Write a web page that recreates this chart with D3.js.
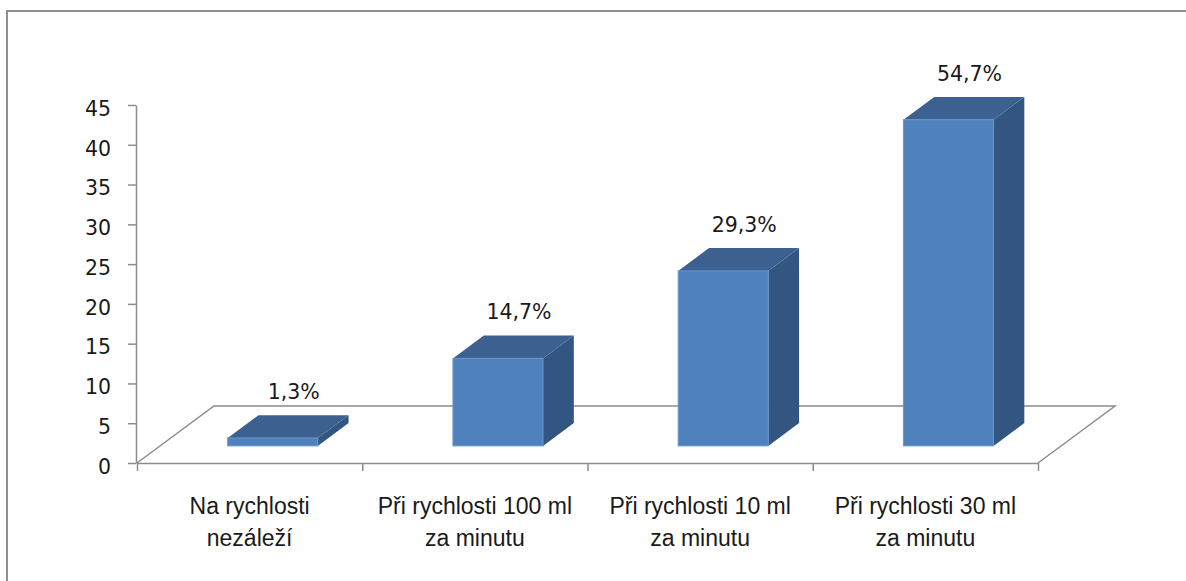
<!DOCTYPE html>
<html>
<head>
<meta charset="utf-8">
<script src="https://cdn.jsdelivr.net/npm/d3@7"></script>
<style>
  html, body { margin: 0; padding: 0; background: #fff; }
  svg { display: block; }
</style>
</head>
<body>
<svg id="chart" width="1186" height="581"></svg>
<script>
// Odpovědi respondentů (počty), celkem 75
const categories = [
  ["Na rychlosti", "nezáleží"],
  ["Při rychlosti 100 ml", "za minutu"],
  ["Při rychlosti 10 ml", "za minutu"],
  ["Při rychlosti 30 ml", "za minutu"]
];
const counts = [1, 11, 22, 41];
const total = 75;
const yTicks = [0, 5, 10, 15, 20, 25, 30, 35, 40, 45];

const svg = d3.select("#chart");

// Front plane scales
const y = d3.scaleLinear().domain([0, 45]).range([463, 105]);
const x = d3.scaleBand()
  .domain(d3.range(categories.length))
  .range([137, 1038])
  .paddingInner(0.6)
  .paddingOuter(0.3);
const edge = d3.scaleLinear().domain([0, categories.length]).range([137, 1038]);

// Depth projection of the floor (full depth) and of the bars
const depth = { dx: 77, dy: -57 };
const barFront = 0.3, barDepth = 0.4;
const fx = depth.dx * barFront, fy = depth.dy * barFront;
const bx = depth.dx * barDepth, by = depth.dy * barDepth;

const axisColor = "#8c8c8c";
const textColor = "#1a1a1a";

// Outer frame
svg.append("path")
  .attr("d", "M7,590 L7,11 L1190,11")
  .attr("fill", "none")
  .attr("stroke", "#8f8f8f")
  .attr("stroke-width", 2);

// Floor: back and left edges (behind the bars)
const x0 = edge(0), x1 = edge(categories.length), y0 = y(0);
svg.append("path")
  .attr("d", `M${x0},${y0} L${x0 + depth.dx},${y0 + depth.dy} L${x1 + depth.dx},${y0 + depth.dy} L${x1},${y0}`)
  .attr("fill", "#fff")
  .attr("stroke", axisColor)
  .attr("stroke-width", 1.5);

// Bars
const bw = x.bandwidth();
const bars = svg.append("g").selectAll("g").data(counts).join("g");

bars.each(function (v, i) {
  const g = d3.select(this);
  const L = x(i) + fx, R = L + bw;
  const B = y(0) + fy, T = y(v) + fy;
  // right side
  g.append("path")
    .attr("d", `M${R},${B} L${R + bx},${B + by} L${R + bx},${T + by} L${R},${T} Z`)
    .attr("fill", "#325581");
  // top
  g.append("path")
    .attr("d", `M${L},${T} L${L + bx},${T + by} L${R + bx},${T + by} L${R},${T} Z`)
    .attr("fill", "#3c6191");
  // front
  g.append("rect")
    .attr("x", L).attr("y", T)
    .attr("width", bw).attr("height", B - T)
    .attr("fill", "#4f81bd")
    .attr("stroke", "#6a96cc")
    .attr("stroke-width", 1);
});

// Value labels (share of all respondents)
const fmt = v => d3.format(".1f")(v / total * 100).replace(".", ",") + "%";
svg.append("g").selectAll("text").data(counts).join("text")
  .attr("x", (v, i) => x(i) + fx + bw / 2 + 21)
  .attr("y", v => y(v) + fy - 39)
  .attr("text-anchor", "middle")
  .attr("font-family", "DejaVu Sans, Verdana, sans-serif")
  .attr("font-size", 20.5)
  .attr("fill", textColor)
  .text(fmt);

// Front edge of the floor with category ticks
const xAxis = d3.axisBottom(edge)
  .tickValues(d3.range(categories.length + 1))
  .tickSize(8)
  .tickSizeOuter(0)
  .tickFormat("");
const gx = svg.append("g").attr("transform", `translate(0,${y0})`).call(xAxis);
gx.selectAll("path, line").attr("stroke", axisColor).attr("stroke-width", 1.5);

// Value axis
const yAxis = d3.axisLeft(y).tickValues(yTicks).tickSize(8).tickSizeOuter(0).tickPadding(17);
const gy = svg.append("g").attr("transform", "translate(136,0)").call(yAxis);
gy.selectAll("path, line").attr("stroke", axisColor).attr("stroke-width", 1.5);
gy.selectAll("text")
  .attr("font-family", "DejaVu Sans, Verdana, sans-serif")
  .attr("font-size", 20.5)
  .attr("dy", "0.5em")
  .attr("fill", textColor);

// Category labels
const cl = svg.append("g").selectAll("text").data(categories).join("text")
  .attr("text-anchor", "middle")
  .attr("font-family", "Liberation Sans, Arial, sans-serif")
  .attr("font-size", 23)
  .attr("fill", textColor);
cl.each(function (lines, i) {
  const cx = x(i) + bw / 2;
  d3.select(this).selectAll("tspan").data(lines).join("tspan")
    .attr("x", cx)
    .attr("y", (d, k) => 514 + k * 32)
    .text(d => d);
});
</script>
</body>
</html>
